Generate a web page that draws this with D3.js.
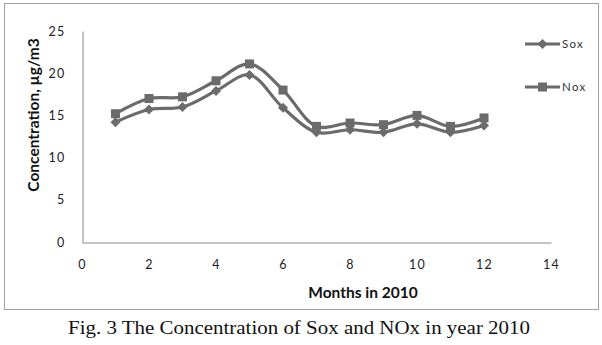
<!DOCTYPE html>
<html><head><meta charset="utf-8">
<script src="https://cdn.jsdelivr.net/npm/d3@7"></script>
<style>body{margin:0;background:#fff}svg{display:block}</style>
</head><body><svg id="c" width="602" height="345"></svg>
<script>
const months = [1,2,3,4,5,6,7,8,9,10,11,12];
const sox = [14.2,15.7,16.0,17.9,19.8,15.9,13.0,13.3,13.0,14.0,13.0,13.8];
const nox = [15.2,17.0,17.2,19.1,21.1,18.0,13.7,14.1,13.9,15.0,13.7,14.7];
const xTicks = [0,2,4,6,8,10,12,14];
const yTicks = [0,5,10,15,20,25];
const seriesNames = ["Sox","Nox"];

const svg = d3.select("#c");
const col = "#6b6b6b";
const tickFont = "Lato, 'Open Sans', sans-serif";

svg.append("rect").attr("x",4.5).attr("y",3.5).attr("width",594).attr("height",306)
  .attr("fill","none").attr("stroke","#a0a0a0").attr("stroke-width",1);

const x = d3.scaleLinear().domain([0,14]).range([82,551]);
const y = d3.scaleLinear().domain([0,25]).range([242,31]);

const xa = svg.append("g").attr("transform","translate(0,242.5)")
  .call(d3.axisBottom(x).tickValues(xTicks).tickSize(0).tickPadding(18));
const ya = svg.append("g").attr("transform","translate(82.5,0)")
  .call(d3.axisLeft(y).tickValues(yTicks).tickSize(0).tickPadding(17));
[xa,ya].forEach(a=>{
  a.select(".domain").attr("stroke","#888");
  a.selectAll("text").attr("font-family",tickFont).attr("font-size",12.5).attr("fill","#222").attr("letter-spacing",1.2);
});

const line = d3.line().x((d,i)=>x(months[i])).y(d=>y(d)).curve(d3.curveCatmullRom.alpha(0.5));
[sox,nox].forEach(s=>{
  svg.append("path").datum(s).attr("d",line).attr("fill","none")
    .attr("stroke",col).attr("stroke-width",3.2);
});
// Sox diamonds
svg.append("g").selectAll("path").data(sox).join("path")
  .attr("transform",(d,i)=>`translate(${x(months[i])},${y(d)})`)
  .attr("d","M0,-5L5,0L0,5L-5,0Z").attr("fill",col);
// Nox squares
svg.append("g").selectAll("rect").data(nox).join("rect")
  .attr("x",(d,i)=>x(months[i])-4.5).attr("y",d=>y(d)-4.5)
  .attr("width",9).attr("height",9).attr("fill",col);

// legend
const lg = svg.append("g");
[44,87].forEach((ly,k)=>{
  lg.append("line").attr("x1",525).attr("x2",560).attr("y1",ly).attr("y2",ly)
    .attr("stroke",col).attr("stroke-width",3.2);
  if(k===0) lg.append("path").attr("transform",`translate(542.5,${ly})`).attr("d","M0,-5L5,0L0,5L-5,0Z").attr("fill",col);
  else lg.append("rect").attr("x",538).attr("y",ly-4.5).attr("width",9).attr("height",9).attr("fill",col);
  lg.append("text").attr("x",562).attr("y",ly+4).text(seriesNames[k])
    .attr("font-family",tickFont).attr("font-size",11.5).attr("fill","#333").attr("letter-spacing",1.3);
});

svg.append("text").attr("transform","translate(39,115) rotate(-90)").attr("text-anchor","middle")
  .attr("font-family",tickFont).attr("font-weight","bold").attr("font-size",15.5).attr("fill","#111")
  .text("Concentration, µg/m3");
svg.append("text").attr("x",363).attr("y",298).attr("text-anchor","middle")
  .attr("font-family",tickFont).attr("font-weight","bold").attr("font-size",15.5).attr("fill","#111")
  .text("Months in 2010");
svg.append("text").attr("x",299).attr("y",334).attr("text-anchor","middle")
  .attr("font-family","'Liberation Serif', serif").attr("font-size",18.5).attr("fill","#111")
  .attr("textLength",462).attr("lengthAdjust","spacingAndGlyphs")
  .text("Fig. 3 The Concentration of Sox and NOx in year 2010");
</script></body></html>
